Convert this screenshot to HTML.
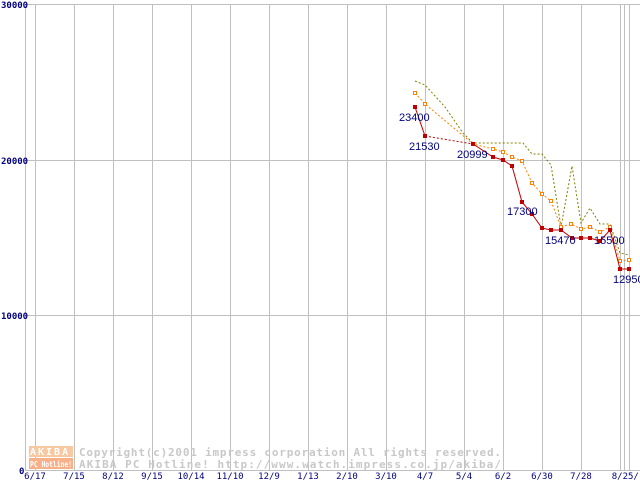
<!DOCTYPE html>
<html><head><meta charset="utf-8"><style>
html,body{margin:0;padding:0;background:#fff;}
svg{display:block}
text{font-family:"DejaVu Sans Mono","Liberation Mono",monospace;}
</style></head><body>
<svg width="640" height="480" viewBox="0 0 640 480" xmlns="http://www.w3.org/2000/svg">
<rect width="640" height="480" fill="#fff"/>
<g stroke="#c0c0c0" stroke-width="1" fill="none">
<line x1="25" y1="4.5" x2="640" y2="4.5"/>
<line x1="25" y1="160.5" x2="640" y2="160.5"/>
<line x1="25" y1="315.5" x2="640" y2="315.5"/>
<line x1="25" y1="470.5" x2="640" y2="470.5"/>
<line x1="25.5" y1="4" x2="25.5" y2="471"/>
<line x1="35.5" y1="4" x2="35.5" y2="471"/>
<line x1="74.5" y1="4" x2="74.5" y2="471"/>
<line x1="113.5" y1="4" x2="113.5" y2="471"/>
<line x1="152.5" y1="4" x2="152.5" y2="471"/>
<line x1="191.5" y1="4" x2="191.5" y2="471"/>
<line x1="230.5" y1="4" x2="230.5" y2="471"/>
<line x1="269.5" y1="4" x2="269.5" y2="471"/>
<line x1="308.5" y1="4" x2="308.5" y2="471"/>
<line x1="347.5" y1="4" x2="347.5" y2="471"/>
<line x1="386.5" y1="4" x2="386.5" y2="471"/>
<line x1="425.5" y1="4" x2="425.5" y2="471"/>
<line x1="464.5" y1="4" x2="464.5" y2="471"/>
<line x1="503.5" y1="4" x2="503.5" y2="471"/>
<line x1="542.5" y1="4" x2="542.5" y2="471"/>
<line x1="581.5" y1="4" x2="581.5" y2="471"/>
<line x1="620.5" y1="4" x2="620.5" y2="471"/>
<line x1="624.5" y1="4" x2="624.5" y2="471"/>
<line x1="629.5" y1="4" x2="629.5" y2="471"/>
</g>
<g font-size="9" fill="#000080" font-weight="bold">
<text x="1" y="8">30000</text>
<text x="1" y="164">20000</text>
<text x="1" y="319">10000</text>
<text x="19" y="474">0</text>
</g>
<g font-size="9" fill="#000080" text-anchor="middle">
<text x="35" y="479">6/17</text><text x="74" y="479">7/15</text><text x="113" y="479">8/12</text>
<text x="152" y="479">9/15</text><text x="191" y="479">10/14</text><text x="230" y="479">11/10</text>
<text x="269" y="479">12/9</text><text x="308" y="479">1/13</text><text x="347" y="479">2/10</text>
<text x="386" y="479">3/10</text><text x="425" y="479">4/7</text><text x="464" y="479">5/4</text>
<text x="503" y="479">6/2</text><text x="542" y="479">6/30</text><text x="581" y="479">7/28</text>
<text x="628" y="479">8/25/1</text>
</g>
<!-- watermark -->
<rect x="29" y="446" width="44" height="11" fill="#f8c8a0"/>
<rect x="29" y="458" width="44" height="11" fill="#f8b088"/>
<text x="30" y="455" font-size="10" fill="#fff" font-weight="bold" letter-spacing="2">AKIBA</text>
<text x="30" y="467" font-size="8" fill="#fff" font-weight="bold" textLength="42" lengthAdjust="spacingAndGlyphs">PC Hotline!</text>
<g font-size="11" fill="#c8c8c8" font-weight="bold">
<text x="79" y="456" textLength="422">Copyright(c)2001 impress corporation All rights reserved.</text>
<text x="79" y="468" textLength="422">AKIBA PC Hotline!  http://www.watch.impress.co.jp/akiba/</text>
</g>
<!-- olive -->
<polyline fill="none" stroke="#808000" stroke-width="1" stroke-dasharray="2,2" points="415,81 425,85 445,107 463,133 473,143 523,143 532,154 542,154 551,165 561,227 572,166 581,223 590,208 600,224 610,224 620,253 629,255"/>
<!-- orange -->
<polyline fill="none" stroke="#ff8000" stroke-width="1" stroke-dasharray="2,2" points="415,93 425,104 473,144 493,149 503,152 512,157 522,161 532,183 542,194 551,201 561,227 571,224 581,229 590,227 600,232 610,227 620,261 629,260"/>
<g fill="#fff" stroke="#ff8000" stroke-width="1">
<rect x="413.5" y="91.5" width="3" height="3"/><rect x="423.5" y="102.5" width="3" height="3"/><rect x="491.5" y="147.5" width="3" height="3"/><rect x="501.5" y="150.5" width="3" height="3"/><rect x="510.5" y="155.5" width="3" height="3"/><rect x="520.5" y="159.5" width="3" height="3"/><rect x="530.5" y="181.5" width="3" height="3"/><rect x="540.5" y="192.5" width="3" height="3"/><rect x="549.5" y="199.5" width="3" height="3"/><rect x="559.5" y="225.5" width="3" height="3"/><rect x="569.5" y="222.5" width="3" height="3"/><rect x="579.5" y="227.5" width="3" height="3"/><rect x="588.5" y="225.5" width="3" height="3"/><rect x="598.5" y="230.5" width="3" height="3"/><rect x="608.5" y="225.5" width="3" height="3"/><rect x="618.5" y="259.5" width="3" height="3"/><rect x="627.5" y="258.5" width="3" height="3"/>
</g>
<!-- red -->
<polyline fill="none" stroke="#c00000" stroke-width="1" points="415,107 425,136"/>
<polyline fill="none" stroke="#c00000" stroke-width="1" stroke-dasharray="2,2" points="425,136 473,144"/>
<polyline fill="none" stroke="#c00000" stroke-width="1" points="473,144 493,157 503,160 512,166 522,202 532,214 542,228 551,230 561,230 572,238 581,238 590,238 600,241 610,230 620,269 629,269"/>
<g fill="#c00000">
<rect x="413" y="105" width="4" height="4"/><rect x="423" y="134" width="4" height="4"/><rect x="471" y="142" width="4" height="4"/><rect x="491" y="155" width="4" height="4"/><rect x="501" y="158" width="4" height="4"/><rect x="510" y="164" width="4" height="4"/><rect x="520" y="200" width="4" height="4"/><rect x="530" y="212" width="4" height="4"/><rect x="540" y="226" width="4" height="4"/><rect x="549" y="228" width="4" height="4"/><rect x="559" y="228" width="4" height="4"/><rect x="570" y="236" width="4" height="4"/><rect x="579" y="236" width="4" height="4"/><rect x="588" y="236" width="4" height="4"/><rect x="598" y="239" width="4" height="4"/><rect x="608" y="228" width="4" height="4"/><rect x="618" y="267" width="4" height="4"/><rect x="627" y="267" width="4" height="4"/>
</g>
<g font-size="11" fill="#000080">
<text x="399" y="121" style="font-family:'Liberation Sans',sans-serif">23400</text>
<text x="409" y="150" style="font-family:'Liberation Sans',sans-serif">21530</text>
<text x="457" y="158" style="font-family:'Liberation Sans',sans-serif">20999</text>
<text x="507" y="215" style="font-family:'Liberation Sans',sans-serif">17300</text>
<text x="545" y="244" style="font-family:'Liberation Sans',sans-serif">15470</text>
<text x="594" y="244" style="font-family:'Liberation Sans',sans-serif">15500</text>
<text x="613" y="283" style="font-family:'Liberation Sans',sans-serif">12950</text>
</g>
</svg>
</body></html>
